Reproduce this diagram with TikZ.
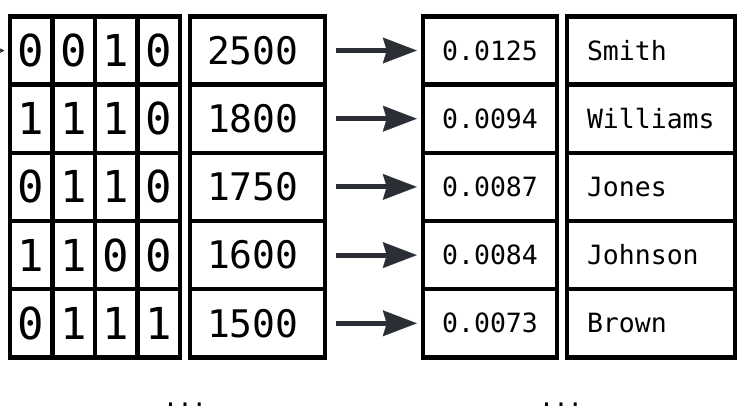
\documentclass[tikz,border=0pt]{standalone}
\usepackage{fontspec}
\setmonofont{DejaVu Sans Mono}
\usetikzlibrary{positioning,arrows.meta}
\definecolor{arrowgray}{HTML}{2B2E35}

\begin{document}
\begin{tikzpicture}[x=1pt, y=-1pt,
    cell/.style={draw, line width=4.5pt, minimum height=68.2pt, inner sep=0pt},
    bit/.style={cell, minimum width=42.5pt, font=\ttfamily\fontsize{44}{44}\selectfont},
    count/.style={cell, inner xsep=17pt, text width=101pt, align=left, font=\ttfamily\fontsize{38}{38}\selectfont},
    freq/.style={cell, minimum width=134pt, font=\ttfamily\fontsize{26.5}{26.5}\selectfont},
    word/.style={cell, inner xsep=20pt, text width=128pt, align=left, font=\ttfamily\fontsize{26.5}{26.5}\selectfont},
    more/.style={anchor=base, font=\ttfamily\fontsize{24}{24}\selectfont},
    ptr/.style={draw=arrowgray, line width=5pt, -{Stealth[length=34pt, width=26pt, inset=4pt, line width=0.1pt]},
        shorten <=9pt, shorten >=4pt}
]
    \useasboundingbox (0,0) rectangle (746,418);

    % Rows: bit vector, count, frequency, surname
    \foreach \a/\b/\c/\d/\n/\f/\s [count=\i] in {
        0/0/1/0/2500/0.0125/Smith,
        1/1/1/0/1800/0.0094/Williams,
        0/1/1/0/1750/0.0087/Jones,
        1/1/0/0/1600/0.0084/Johnson,
        0/1/1/1/1500/0.0073/Brown}{
        \pgfmathsetmacro\y{50.5+68.2*(\i-1)}
        \node[bit] (b\i-1) at (31,\y) {\a};
        \node[bit] (b\i-2) at (73.5,\y) {\b};
        \node[bit] (b\i-3) at (116,\y) {\c};
        \node[bit] (b\i-4) at (158.5,\y) {\d};
        \node[count] (c\i) at (257.5,\y) {\n};
        \node[freq] (f\i) at (490,\y) {\f};
        \node[word] (w\i) at (651,\y) {\s};
        \draw[ptr] (c\i.east) -- (f\i.west);
    }

    % Arrow coming in from the left edge
    \coordinate (in) at (-20,51);
    \draw[draw=arrowgray, line width=1.5pt, -{Stealth[length=5pt, width=5pt]}, shorten >=3pt] (in) -- (b1-1.west);

    % Rows left out
    \node[more] (gap1) at (185,406.5) {...};
    \node[more] (gap2) at (561,406.5) {...};
\end{tikzpicture}
\end{document}
